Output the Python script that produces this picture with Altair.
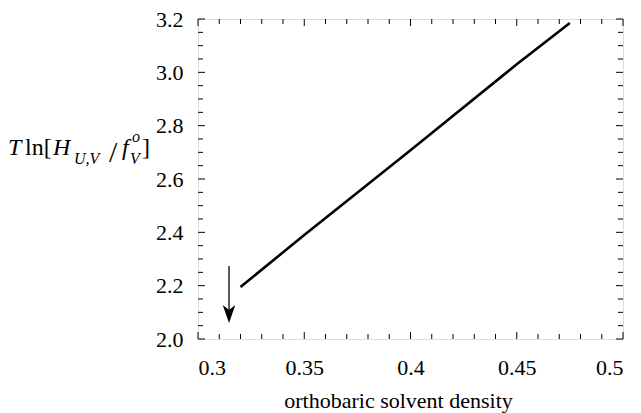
import altair as alt
import pandas as pd

# ---- data ----
line_x = [0.320, 0.350, 0.400, 0.450, 0.475]
line_y = [2.195, 2.390, 2.708, 3.030, 3.185]

arrow_x = [0.3146]
arrow_top = [2.274]
arrow_tip = [2.094]

x_major = [0.30, 0.35, 0.40, 0.45, 0.50]
x_minor = [0.31, 0.32, 0.33, 0.34, 0.36, 0.37, 0.38, 0.39, 0.41, 0.42, 0.43, 0.44,
           0.46, 0.47, 0.48, 0.49]
y_major = [2.0, 2.2, 2.4, 2.6, 2.8, 3.0, 3.2]
y_minor = [2.05, 2.1, 2.15, 2.25, 2.3, 2.35, 2.45, 2.5, 2.55, 2.65, 2.7, 2.75,
           2.85, 2.9, 2.95, 3.05, 3.1, 3.15]

FONT = "Liberation Serif"
W, H = 425, 320
MAJ, MIN = 7, 5

xscale = alt.Scale(domain=[0.3, 0.5], nice=False, zero=False)
yscale = alt.Scale(domain=[2.0, 3.2], nice=False, zero=False)

X = alt.X("x:Q", scale=xscale,
          axis=alt.Axis(values=x_major, format="~g", ticks=False, grid=False,
                        domain=False, labelFont=FONT, labelFontSize=22,
                        labelColor="black", labelPadding=18,
                        title="orthobaric solvent density", titleFont=FONT,
                        titleFontSize=22, titleFontWeight="normal",
                        titleColor="black", titleBaseline="alphabetic",
                        titleY=68, titleX=200, titleAlign="center"))
Y = alt.Y("y:Q", scale=yscale,
          axis=alt.Axis(values=y_major, format=".1f", ticks=False, grid=False,
                        domain=False, labelFont=FONT, labelFontSize=22,
                        labelColor="black", labelPadding=15, title=None))

line_df = pd.DataFrame({"x": line_x, "y": line_y})
line = alt.Chart(line_df).mark_line(color="black", strokeWidth=2.6).encode(x=X, y=Y)

arrow_df = pd.DataFrame({"x": arrow_x, "y": arrow_top, "y2": arrow_tip})
arrow_shaft = alt.Chart(arrow_df).mark_rule(color="black", strokeWidth=1.3).encode(
    x=X, y=Y, y2="y2:Q")
head_df = pd.DataFrame({"x": arrow_x, "y": arrow_tip})
arrow_head = alt.Chart(head_df).mark_point(
    shape="M0,1 L-0.7,-1 L0,-0.45 L0.7,-1 Z", filled=True, color="black",
    size=324, opacity=1).encode(x=X, y=Y)


def xticks(vals, length):
    df = pd.DataFrame({"x": vals})
    bottom = alt.Chart(df).mark_rule(color="black", strokeWidth=1).encode(
        x=X, y=alt.value(H), y2=alt.value(H - length))
    top = alt.Chart(df).mark_rule(color="black", strokeWidth=1).encode(
        x=X, y=alt.value(0), y2=alt.value(length))
    return [bottom, top]


def yticks(vals, length):
    df = pd.DataFrame({"y": vals})
    left = alt.Chart(df).mark_rule(color="black", strokeWidth=1).encode(
        y=Y, x=alt.value(0), x2=alt.value(length))
    right = alt.Chart(df).mark_rule(color="black", strokeWidth=1).encode(
        y=Y, x=alt.value(W), x2=alt.value(W - length))
    return [left, right]


ticks = xticks(x_major, MAJ) + xticks(x_minor, MIN) + yticks(y_major, MAJ) + yticks(y_minor, MIN)

# y-axis title composed of pieces (sub/superscripts); offsets from plot origin
def txt(s, x, y, size, italic):
    return alt.Chart(pd.DataFrame({"t": [s]})).mark_text(
        font=FONT, fontSize=size, fontStyle="italic" if italic else "normal",
        align="left", baseline="alphabetic", color="black").encode(
        text="t:N", x=alt.value(x), y=alt.value(y))

ytitle = [
    txt("T", -190, 136, 24, True),
    txt("ln[", -173, 136, 24, False),
    txt("H", -145, 136, 24, True),
    txt("U,V", -124, 145, 16, True),
    txt("/", -89, 143, 30, False),
    txt("f", -76, 136, 24, True),
    txt("o", -66, 123, 16, True),
    txt("V", -68, 145, 16, True),
    txt("]", -56, 136, 24, False),
]

chart = alt.layer(line, arrow_shaft, arrow_head, *ticks, *ytitle).properties(
    width=W, height=H,
    autosize=alt.AutoSizeParams(type="none"),
    padding={"left": 198, "top": 19, "right": 18, "bottom": 74},
).configure_view(stroke="black", strokeWidth=1).configure(
    background="white"
).configure_axis(labelFont=FONT, titleFont=FONT)

chart.save("out.html", embed_options={"renderer": "svg", "actions": False})
